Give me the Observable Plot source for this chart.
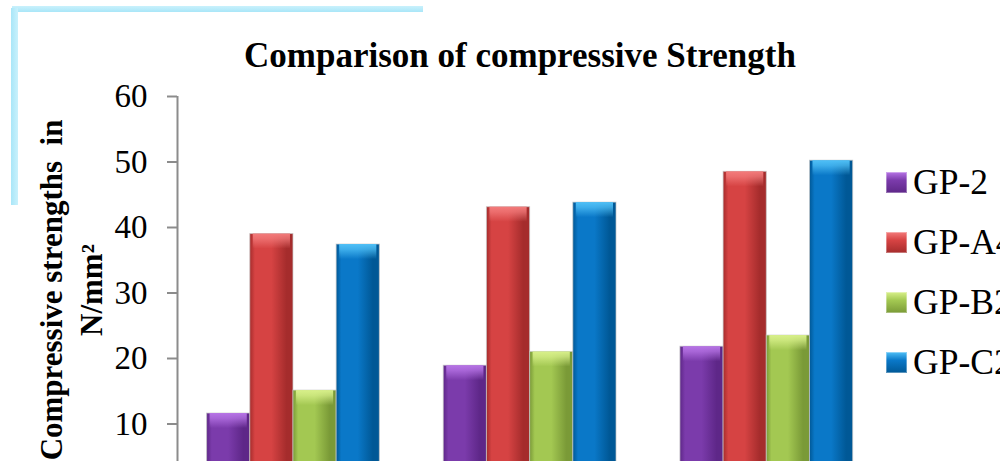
<!DOCTYPE html>
<html>
<head>
<meta charset="utf-8">
<script src="https://cdn.jsdelivr.net/npm/d3@7"></script>
<script src="https://cdn.jsdelivr.net/npm/@observablehq/plot@0.6"></script>
<style>
  html, body { margin: 0; padding: 0; background: #fff; }
  body { width: 1000px; height: 461px; overflow: hidden; position: relative; font-family: "Liberation Serif", "Times New Roman", serif; }
  .deco-h { position: absolute; left: 12px; top: 6px; width: 411px; height: 6px; background: linear-gradient(#c9f1fc, #a9e6f8); }
  .deco-v { position: absolute; left: 11px; top: 8px; width: 7px; height: 197px; background: linear-gradient(90deg, #a9e6f8, #c9f1fc); }
  #title { position: absolute; left: 0; width: 1040px; top: 38px; text-align: center; font-weight: bold; font-size: 35px; line-height: 35px; color: #000; white-space: nowrap; }
  #chart { position: absolute; left: 0; top: 80px; }
  #chart svg { overflow: visible; }
  .leg { position: absolute; left: 886px; height: 35px; line-height: 35px; font-size: 35.5px; white-space: nowrap; color: #000; }
  .leg .sw { position: absolute; left: 0; top: 7px; width: 21px; height: 21px; box-shadow: inset 0 0 0 1px rgba(255,255,255,0.35); }
  .leg .lb { position: absolute; left: 27px; top: 0; }
</style>
</head>
<body>
<div class="deco-h"></div>
<div class="deco-v"></div>
<div id="title">Comparison of compressive Strength</div>
<div id="chart"></div>
<div id="legend"></div>
<script>
// ---- data ----
const groups = ["7 days", "14 days", "28 days"];
const series = ["GP-2", "GP-A4", "GP-B2", "GP-C2"];
const gp2  = [11.6, 18.9, 21.8];
const gpA4 = [39.0, 43.1, 48.5];
const gpB2 = [15.1, 21.0, 23.5];
const gpC2 = [37.4, 43.8, 50.2];
const yTicks = [0, 10, 20, 30, 40, 50, 60];
const seriesColors = [
  {edge: "#5e2788", mid: "#7b3bab", light: "#b774e6"},
  {edge: "#a52c2c", mid: "#d64343", light: "#f37b7b"},
  {edge: "#7a9a37", mid: "#a3c852", light: "#d8f08a"},
  {edge: "#005896", mid: "#0a78c8", light: "#4fc0f7"}
];

const values = [gp2, gpA4, gpB2, gpC2];
const table = [];
values.forEach((arr, si) => arr.forEach((v, gi) => table.push({group: groups[gi], gi, series: series[si], si, v})));

// layout of bars within each group slot
const pad = 0.125, bw = 0.1825;

const defsMark = () => {
  const defs = d3.create("svg:defs");
  seriesColors.forEach((c, i) => {
    const g = defs.append("linearGradient").attr("id", "bar-" + i).attr("x1", "0").attr("x2", "1").attr("y1", "0").attr("y2", "0");
    g.append("stop").attr("offset", "0").attr("stop-color", c.edge);
    g.append("stop").attr("offset", "0.12").attr("stop-color", c.mid);
    g.append("stop").attr("offset", "0.5").attr("stop-color", c.mid);
    g.append("stop").attr("offset", "0.85").attr("stop-color", c.edge);
    g.append("stop").attr("offset", "1").attr("stop-color", c.edge);
    const k = defs.append("linearGradient").attr("id", "cap-" + i).attr("x1", "0").attr("x2", "0").attr("y1", "0").attr("y2", "1");
    k.append("stop").attr("offset", "0").attr("stop-color", c.light).attr("stop-opacity", 1);
    k.append("stop").attr("offset", "0.35").attr("stop-color", c.light).attr("stop-opacity", 0.75);
    k.append("stop").attr("offset", "1").attr("stop-color", c.light).attr("stop-opacity", 0);
  });
  return defs.node();
};

const plot = Plot.plot({
  width: 1000,
  height: 460,
  marginTop: 16,
  marginBottom: 51,
  marginLeft: 177,
  marginRight: 113,
  style: {fontFamily: "Liberation Serif, Times New Roman, serif", background: "transparent", color: "#000"},
  x: {domain: [0, groups.length], axis: null},
  y: {domain: [0, 60], axis: null},
  color: {type: "identity"},
  marks: [
    defsMark,
    Plot.rectY(table, {
      x1: d => d.gi + pad + d.si * bw,
      x2: d => d.gi + pad + (d.si + 1) * bw,
      y1: 0, y2: "v",
      fill: d => "url(#bar-" + d.si + ")",
      stroke: "#c8c8c8", strokeWidth: 1, strokeOpacity: 0.7,
      title: d => `${d.series} (${d.group}): ${d.v}`
    }),
    Plot.rectY(table, {
      x1: d => d.gi + pad + d.si * bw,
      x2: d => d.gi + pad + (d.si + 1) * bw,
      y1: d => d.v - 2.3, y2: "v",
      fill: d => "url(#cap-" + d.si + ")",
      insetLeft: 3, insetRight: 3
    }),
    Plot.ruleX([0], {y1: 0, y2: 60, stroke: "#8c8c8c", strokeWidth: 2}),
    Plot.axisY(yTicks, {tickSize: 10, tickPadding: 20, fontSize: 33, stroke: "#8c8c8c", strokeWidth: 2, fill: "#000", anchor: "left", label: null}),
    Plot.text(["Compressive strengths  in\nN/mm²"], {
      frameAnchor: "left", dx: -108, dy: -3, rotate: -90, text: d => d,
      fontSize: 31, fontWeight: "bold", lineHeight: 1.26, textAnchor: "middle", lineAnchor: "middle", fill: "#000"
    })
  ]
});
document.getElementById("chart").appendChild(plot);

// legend
const legend = document.getElementById("legend");
const legendTops = [182, 242, 302, 362];
series.forEach((s, i) => {
  const c = seriesColors[i];
  const row = document.createElement("div");
  row.className = "leg";
  row.style.top = (legendTops[i] - 17.5) + "px";
  const sw = document.createElement("span");
  sw.className = "sw";
  sw.style.background = `linear-gradient(${c.light} 0%, ${c.mid} 40%, ${c.edge} 100%)`;
  const lb = document.createElement("span");
  lb.className = "lb";
  lb.textContent = s;
  row.appendChild(sw);
  row.appendChild(lb);
  legend.appendChild(row);
});
</script>
</body>
</html>
